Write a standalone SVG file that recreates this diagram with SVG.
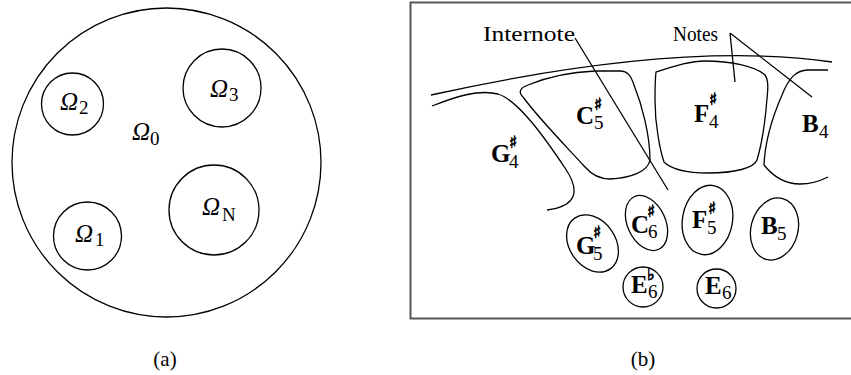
<svg xmlns="http://www.w3.org/2000/svg" width="851" height="375" viewBox="0 0 851 375">
<style>
.ln{fill:none;stroke:#000;stroke-width:1.3}
.om{font-family:"Liberation Serif",serif;font-style:italic;font-size:25px}
.sb{font-family:"Liberation Serif",serif;font-size:19px}
.nt{font-family:"Liberation Serif",serif;font-weight:bold;font-size:25px}
.sh{font-family:"DejaVu Sans",sans-serif;font-weight:bold;font-size:17px;stroke:#000;stroke-width:0.7}
.lb{font-family:"Liberation Serif",serif;font-size:22px}
.cp{font-family:"Liberation Serif",serif;font-size:21px;text-anchor:middle}
</style>
<rect width="851" height="375" fill="#fff"/>
<!-- Panel (a) -->
<g id="omega0"><circle class="ln" cx="166.5" cy="162.5" r="154.5"/><text class="om" x="132" y="140">Ω</text><text class="sb" x="150" y="145">0</text></g>
<g id="omega2"><circle class="ln" cx="72.5" cy="104" r="31"/><text class="om" x="60" y="110">Ω</text><text class="sb" x="79" y="114">2</text></g>
<g id="omega3"><circle class="ln" cx="222" cy="88" r="39"/><text class="om" x="210" y="97">Ω</text><text class="sb" x="229" y="101">3</text></g>
<g id="omegaN"><circle class="ln" cx="214" cy="210" r="45"/><text class="om" x="202" y="215">Ω</text><text class="sb" x="222" y="221" font-size="18">N</text></g>
<g id="omega1"><circle class="ln" cx="87.5" cy="236" r="34"/><text class="om" x="75" y="242">Ω</text><text class="sb" x="95" y="246">1</text></g>
<text class="cp" x="165" y="366">(a)</text>
<!-- Panel (b) -->
<rect x="410.5" y="2.5" width="442" height="316" fill="none" stroke="#555" stroke-width="2"/>
<g id="outer-arc"><path class="ln" d="M431,95 Q680,40 832,62"/></g>
<g id="G4s"><path class="ln" d="M432,106 C455,97 478,89 498,94 C518,100 545,138 565,168 C580,190 578,206 547,210"/><text class="nt" x="491" y="162">G</text><text class="sh" x="509" y="148">♯</text><text class="sb" x="509" y="168">4</text></g>
<g id="C5s"><path class="ln" d="M523,97 C518,92 520,88 528,85 C545,78 570,72 595,71 L620,71 C628,71 631,76 634,85 C642,105 650,135 650,160 C648,172 630,178 610,179 C600,179 592,175 585,167 C565,145 540,120 523,97 Z"/><text class="nt" x="576" y="124">C</text><text class="sh" x="594" y="110">♯</text><text class="sb" x="594" y="129">5</text></g>
<g id="F4s"><path class="ln" d="M656,72 C675,66 690,61 705,61 C730,61 755,66 765,75 C770,82 767,95 766,110 C764,130 760,150 757,160 C754,168 735,173 708,173 C690,173 672,170 664,162 C660,150 655,125 655,100 C655,88 655,80 656,72 Z"/><text class="nt" x="694" y="122">F</text><text class="sh" x="709" y="105">♯</text><text class="sb" x="709" y="128">4</text></g>
<g id="B4"><path class="ln" d="M828,70 L808,70 C795,70 788,80 782,95 C772,118 765,140 764,165 C772,175 783,184 800,184 C812,184 820,181 828,177"/><text class="nt" x="802" y="132">B</text><text class="sb" x="819" y="138">4</text></g>
<g id="G5s"><ellipse class="ln" cx="592.5" cy="243.5" rx="23" ry="31" transform="rotate(-35 592.5 243.5)"/><text class="nt" x="576" y="254">G</text><text class="sh" x="593" y="238">♯</text><text class="sb" x="593" y="260">5</text></g>
<g id="C6s"><ellipse class="ln" cx="646.5" cy="223" rx="19" ry="29" transform="rotate(-25 646.5 223)"/><text class="nt" x="631" y="233">C</text><text class="sh" x="647" y="217">♯</text><text class="sb" x="648" y="238">6</text></g>
<g id="F5s"><ellipse class="ln" cx="707.5" cy="220" rx="25" ry="35" transform="rotate(10 707.5 220)"/><text class="nt" x="692" y="228">F</text><text class="sh" x="708" y="214">♯</text><text class="sb" x="707" y="234">5</text></g>
<g id="B5"><ellipse class="ln" cx="774.5" cy="229" rx="23.5" ry="31.5" transform="rotate(15 774.5 229)"/><text class="nt" x="761" y="234">B</text><text class="sb" x="777" y="240">5</text></g>
<g id="E6b"><circle class="ln" cx="643" cy="287" r="20"/><text class="nt" x="631" y="293">E</text><text class="sh" x="647" y="280" font-size="15">♭</text><text class="sb" x="648" y="298">6</text></g>
<g id="E6"><circle class="ln" cx="716.5" cy="288.5" r="19.5"/><text class="nt" x="705" y="294">E</text><text class="sb" x="722" y="299">6</text></g>
<g id="labels"><text class="lb" x="483" y="41" textLength="92" lengthAdjust="spacingAndGlyphs">Internote</text><text class="lb" x="673" y="41" textLength="45" lengthAdjust="spacingAndGlyphs">Notes</text></g>
<g id="connectors"><path class="ln" d="M575,38 L668,190"/><path class="ln" d="M730,33 L735,82"/><path class="ln" d="M730,33 L812,97"/></g>
<text class="cp" x="643" y="366">(b)</text>
</svg>
